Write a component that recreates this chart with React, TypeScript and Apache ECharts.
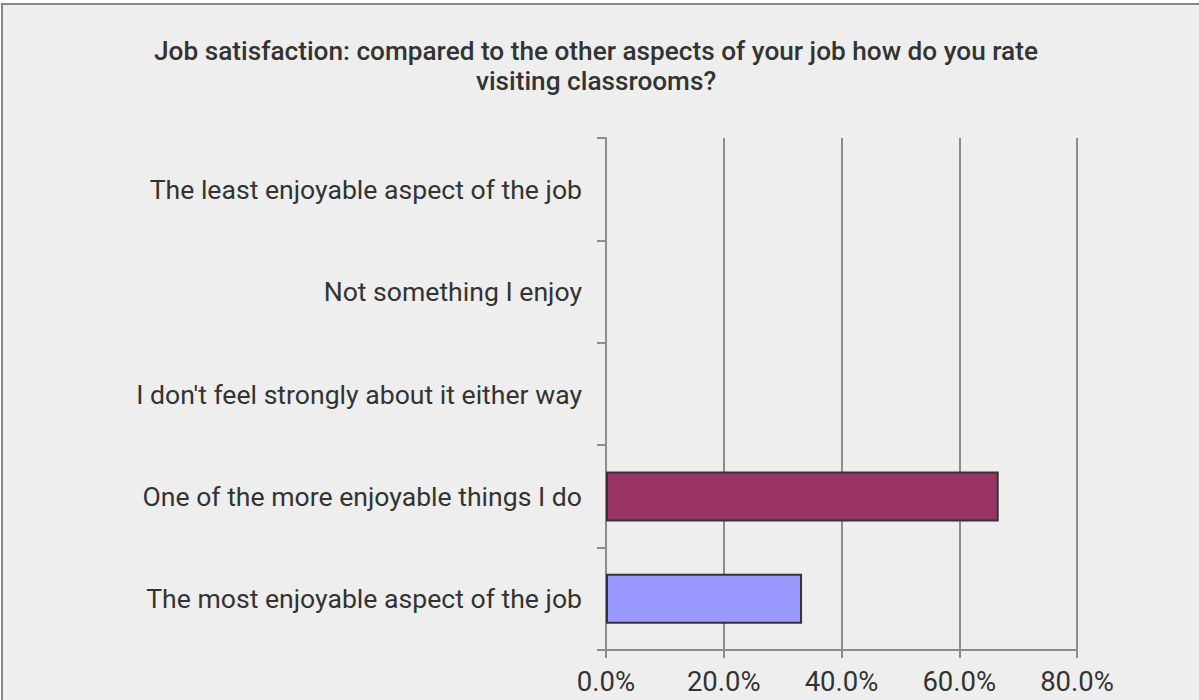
import React, { useEffect, useRef } from "react";
import * as echarts from "echarts";

const titleText =
  "Job satisfaction: compared to the other aspects of your job how do you rate\nvisiting classrooms?";
const categories = [
  "The least enjoyable aspect of the job",
  "Not something I enjoy",
  "I don't feel strongly about it either way",
  "One of the more enjoyable things I do",
  "The most enjoyable aspect of the job",
];
const values = [0, 0, 0, 66.7, 33.3];
const barColors = ["#9999ff", "#993366", "#9999ff", "#993366", "#9999ff"];
const xTicks = { min: 0, max: 80, interval: 20 };

const FONT = "Roboto, 'Liberation Sans', Arial, sans-serif";

export default function App() {
  const ref = useRef<HTMLDivElement>(null);
  useEffect(() => {
    if (!ref.current) return;
    const chart = echarts.init(ref.current, undefined, { renderer: "svg" });
    chart.setOption({
      animation: false,
      backgroundColor: "transparent",
      textStyle: { fontFamily: FONT },
      title: {
        text: titleText,
        left: 591,
        top: 31,
        textAlign: "center",
        textStyle: {
          fontFamily: FONT,
          fontSize: 26.2,
          fontWeight: 500,
          color: "#333333",
          lineHeight: 30,
        },
      },
      grid: { left: 606, right: 122, top: 138, bottom: 50 },
      xAxis: {
        type: "value",
        min: xTicks.min,
        max: xTicks.max,
        interval: xTicks.interval,
        axisLine: { show: true, lineStyle: { color: "#8c8c8c", width: 2 } },
        axisTick: { show: true, length: 8, lineStyle: { color: "#8c8c8c", width: 2 } },
        splitLine: { show: true, lineStyle: { color: "#8c8c8c", width: 2 } },
        axisLabel: {
          fontFamily: FONT,
          fontSize: 27.5,
          color: "#333333",
          margin: 17,
          formatter: (v: number) => v.toFixed(1) + "%",
        },
      },
      yAxis: {
        type: "category",
        data: categories,
        inverse: true,
        axisLine: { show: true, lineStyle: { color: "#8c8c8c", width: 2 } },
        axisTick: { show: true, length: 9, lineStyle: { color: "#8c8c8c", width: 2 } },
        splitLine: { show: false },
        axisLabel: {
          fontFamily: FONT,
          fontSize: 26.6,
          color: "#333333",
          margin: 24,
        },
      },
      series: [
        {
          type: "bar",
          barWidth: 50,
          data: values.map((v, i) => ({
            value: v,
            itemStyle: {
              color: barColors[i],
              borderColor: "#333333",
              borderWidth: v > 0 ? 2 : 0,
            },
          })),
        },
      ],
    });
    return () => chart.dispose();
  }, []);
  return (
    <div
      style={{
        position: "fixed",
        left: 0,
        top: 0,
        width: 1199,
        height: 700,
        overflow: "hidden",
        background: "#ffffff",
      }}
    >
      <div
        style={{
          position: "absolute",
          left: 1,
          top: 3,
          width: 1400,
          height: 900,
          borderLeft: "2px solid #888888",
          borderTop: "2px solid #888888",
          background: "#eeeeee",
        }}
      />
      <div
        ref={ref}
        style={{ position: "absolute", left: 0, top: 0, width: 1199, height: 700 }}
      />
    </div>
  );
}
